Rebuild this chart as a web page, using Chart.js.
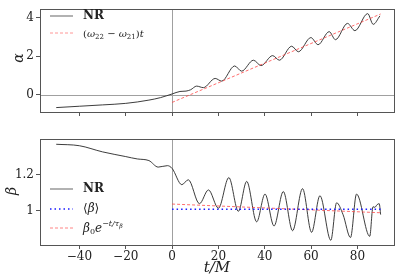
<!DOCTYPE html>
<html>
<head>
<meta charset="utf-8">
<script src="https://cdn.jsdelivr.net/npm/chart.js@4.4.0/dist/chart.umd.min.js"></script>
<style>
  body { margin: 0; background: #fff; }
  .panel { position: absolute; left: 0; }
</style>
</head>
<body>
<div class="panel" style="top:0"><canvas id="alphaChart" width="399" height="130"></canvas></div>
<div class="panel" style="top:130px"><canvas id="betaChart" width="399" height="149"></canvas></div>
<script>
// x ticks shared by both panels
const timeTicks = [-40, -20, 0, 20, 40, 60, 80];
const alphaTicks = [0, 2, 4];
const betaTicks = [1.0, 1.2];

// alpha panel: NR curve (t, alpha)
const alphaNrT = [-50, -40, -30, -20, -10, -5, 0, 3.4, 6, 8, 10.6, 13.5, 18.6, 21.4, 27, 30, 35.1, 38.4, 43.4, 46.3, 51.6, 54.5, 59.9, 63, 67.8, 70.5, 75.7, 78.9, 84.4, 86.8, 89.7];
const alphaNrY = [-0.68, -0.61, -0.54, -0.46, -0.29, -0.16, 0.03, 0.16, 0.18, 0.25, 0.44, 0.36, 0.84, 0.70, 1.49, 1.22, 1.79, 1.51, 2.03, 1.79, 2.52, 2.23, 2.97, 2.60, 3.28, 2.86, 3.71, 3.33, 4.22, 3.66, 4.10];
// (w22 - w21) t line
const alphaFitT = [0, 90];
const alphaFitY = [-0.41, 4.2];

// beta panel: NR curve
const betaNrT = [-50, -40, -30, -20, -15, -10, -6, -2, 0, 4.2, 7, 11.8, 15.7, 20, 24.5, 28.6, 32.2, 36.5, 40.1, 44, 48, 52, 56.3, 60.2, 63.8, 68.5, 71, 73.8, 77, 79.6, 85.3, 86.7, 87.5, 88.5, 89.4, 90];
const betaNrY = [1.368, 1.36, 1.326, 1.30, 1.287, 1.278, 1.242, 1.25, 1.235, 1.145, 1.172, 1.04, 1.116, 1.015, 1.184, 0.998, 1.163, 0.94, 1.093, 0.917, 1.107, 0.891, 1.123, 0.882, 1.084, 0.838, 1.045, 0.979, 0.853, 1.093, 0.86, 1.023, 1.02, 1.035, 1.04, 0.98];
// <beta> mean
const betaMeanT = [0, 90];
const betaMeanY = [1.009, 1.009];
// beta0 exp(-t/tau)
const betaFitT = [0, 45, 90];
const betaFitY = [1.038, 1.014, 0.99];

const SERIF = '"DejaVu Serif", "Liberation Serif", serif';
const NR_COLOR = 'rgba(40,40,40,0.9)';
const RED = 'rgba(255,60,60,0.75)';
const BLUE = '#1a1aff';

const pts = (xs, ys) => xs.map((x, i) => ({ x: x, y: ys[i] }));
const fmt = (v) => {
  const s = Number.isInteger(v) ? String(Math.abs(v)) : Math.abs(v).toFixed(1);
  return v < 0 ? '\u2212' + s : s;
};

// draw a run of text pieces with sub/superscripts
function drawRich(ctx, parts, x, y) {
  ctx.textBaseline = 'middle';
  ctx.textAlign = 'left';
  parts.forEach(p => {
    ctx.font = p.font;
    ctx.fillText(p.t, x, y + (p.dy || 0));
    x += ctx.measureText(p.t).width + (p.gap || 0);
  });
}

function legendLine(ctx, x0, x1, y, color, width, dash) {
  ctx.save();
  ctx.strokeStyle = color;
  ctx.lineWidth = width;
  ctx.setLineDash(dash);
  ctx.beginPath();
  ctx.moveTo(x0, y);
  ctx.lineTo(x1, y);
  ctx.stroke();
  ctx.restore();
}

function axisLabel(ctx, text, x, y) {
  ctx.save();
  ctx.translate(x, y);
  ctx.rotate(-Math.PI / 2);
  ctx.font = 'italic 14px ' + SERIF;
  ctx.fillStyle = '#222';
  ctx.textAlign = 'center';
  ctx.textBaseline = 'middle';
  ctx.fillText(text, 0, 0);
  ctx.restore();
}

const framePlugin = {
  id: 'frame',
  beforeDatasetsDraw(chart, args, opts) {
    const { ctx, chartArea: a, scales } = chart;
    ctx.save();
    ctx.strokeStyle = '#a0a0a0';
    ctx.lineWidth = 1;
    const x0 = Math.round(scales.x.getPixelForValue(0)) + 0.5;
    ctx.beginPath();
    ctx.moveTo(x0, a.top);
    ctx.lineTo(x0, a.bottom);
    if (opts.hzero) {
      const y0 = Math.round(scales.y.getPixelForValue(0)) + 0.5;
      ctx.moveTo(a.left, y0);
      ctx.lineTo(a.right, y0);
    }
    ctx.stroke();
    ctx.restore();
  },
  afterDraw(chart, args, opts) {
    const { ctx, chartArea: a } = chart;
    ctx.save();
    ctx.strokeStyle = '#555';
    ctx.lineWidth = 1;
    ctx.strokeRect(Math.round(a.left) + 0.5, Math.round(a.top) + 0.5, Math.round(a.right - a.left) - 1, Math.round(a.bottom - a.top));
    ctx.fillStyle = '#222';
    opts.draw && opts.draw(ctx, chart);
    ctx.restore();
  }
};

function timeAxis(showLabels, height) {
  return {
    type: 'linear',
    min: -57,
    max: 96.2,
    afterBuildTicks: s => { s.ticks = timeTicks.map(v => ({ value: v })); },
    afterFit: s => { s.height = height; },
    grid: { drawOnChartArea: false, drawTicks: true, tickLength: 4, color: '#555' },
    border: { display: false },
    ticks: { display: showLabels, padding: 1, color: '#222', font: { family: SERIF, size: 12 }, callback: v => fmt(v), maxRotation: 0 }
  };
}

function valueAxis(min, max, tickVals) {
  return {
    type: 'linear',
    min: min,
    max: max,
    afterBuildTicks: s => { s.ticks = tickVals.map(v => ({ value: v })); },
    afterFit: s => { s.width = 40; },
    grid: { drawOnChartArea: false, drawTicks: true, tickLength: 4, color: '#555' },
    border: { display: false },
    ticks: { padding: 2, color: '#222', font: { family: SERIF, size: 12 }, callback: v => fmt(v) }
  };
}

const lineBase = { pointRadius: 0, fill: false, cubicInterpolationMode: 'monotone' };

new Chart(document.getElementById('alphaChart'), {
  type: 'line',
  data: {
    datasets: [
      Object.assign({ label: 'fit', data: pts(alphaFitT, alphaFitY), borderColor: RED, borderWidth: 1, borderDash: [3, 2], order: 1 }, lineBase),
      Object.assign({ label: 'NR', data: pts(alphaNrT, alphaNrY), borderColor: NR_COLOR, borderWidth: 1, order: 2 }, lineBase)
    ]
  },
  options: {
    responsive: false,
    animation: false,
    devicePixelRatio: 1,
    layout: { padding: { top: 2, right: 4, left: 0, bottom: 0 } },
    scales: { x: timeAxis(false, 18), y: valueAxis(-0.91, 4.45, alphaTicks) },
    plugins: {
      legend: { display: false },
      tooltip: { enabled: false },
      frame: {
        hzero: true,
        draw: (ctx) => {
          axisLabel(ctx, '\u03b1', 19, 58);
          legendLine(ctx, 50, 73, 16, '#999', 1.5, []);
          drawRich(ctx, [{ t: 'NR', font: 'bold 12px ' + SERIF }], 83, 16);
          legendLine(ctx, 50, 73, 33, 'rgba(255,80,80,0.6)', 1, [3, 2]);
          drawRich(ctx, [
            { t: '(', font: '10px ' + SERIF },
            { t: '\u03c9', font: 'italic 10px ' + SERIF },
            { t: '22', font: '7px ' + SERIF, dy: 3 },
            { t: ' \u2212 ', font: '10px ' + SERIF },
            { t: '\u03c9', font: 'italic 10px ' + SERIF },
            { t: '21', font: '7px ' + SERIF, dy: 3 },
            { t: ')', font: '10px ' + SERIF },
            { t: 't', font: 'italic 10px ' + SERIF }
          ], 83, 34);
        }
      }
    }
  },
  plugins: [framePlugin]
});

new Chart(document.getElementById('betaChart'), {
  type: 'line',
  data: {
    datasets: [
      Object.assign({ label: 'mean', data: pts(betaMeanT, betaMeanY), borderColor: BLUE, borderWidth: 1.5, borderDash: [1.5, 3], order: 1 }, lineBase),
      Object.assign({ label: 'fit', data: pts(betaFitT, betaFitY), borderColor: RED, borderWidth: 1, borderDash: [3, 2], order: 1 }, lineBase),
      Object.assign({ label: 'NR', data: pts(betaNrT, betaNrY), borderColor: NR_COLOR, borderWidth: 1, order: 2 }, lineBase)
    ]
  },
  options: {
    responsive: false,
    animation: false,
    devicePixelRatio: 1,
    layout: { padding: { top: 4, right: 4, left: 0, bottom: 0 } },
    scales: { x: timeAxis(true, 34), y: valueAxis(0.812, 1.396, betaTicks) },
    plugins: {
      legend: { display: false },
      tooltip: { enabled: false },
      frame: {
        hzero: false,
        draw: (ctx) => {
          axisLabel(ctx, '\u03b2', 12, 61);
          ctx.font = 'italic 15px ' + SERIF;
          ctx.textAlign = 'center';
          ctx.textBaseline = 'middle';
          ctx.fillText('t/M', 217, 138);
          legendLine(ctx, 50, 73, 59, '#999', 1.5, []);
          drawRich(ctx, [{ t: 'NR', font: 'bold 12px ' + SERIF }], 83, 59);
          legendLine(ctx, 50, 73, 79, BLUE, 1.5, [1.5, 3]);
          drawRich(ctx, [
            { t: '\u27e8', font: '12px ' + SERIF },
            { t: '\u03b2', font: 'italic 12px ' + SERIF },
            { t: '\u27e9', font: '12px ' + SERIF }
          ], 83, 79);
          legendLine(ctx, 50, 73, 98, 'rgba(255,80,80,0.7)', 1, [3, 2]);
          drawRich(ctx, [
            { t: '\u03b2', font: 'italic 12px ' + SERIF },
            { t: '0', font: '8px ' + SERIF, dy: 3 },
            { t: 'e', font: 'italic 12px ' + SERIF },
            { t: '\u2212t/\u03c4', font: 'italic 8px ' + SERIF, dy: -5 },
            { t: '\u03b2', font: 'italic 6px ' + SERIF, dy: -3 }
          ], 83, 99);
        }
      }
    }
  },
  plugins: [framePlugin]
});
</script>
</body>
</html>
